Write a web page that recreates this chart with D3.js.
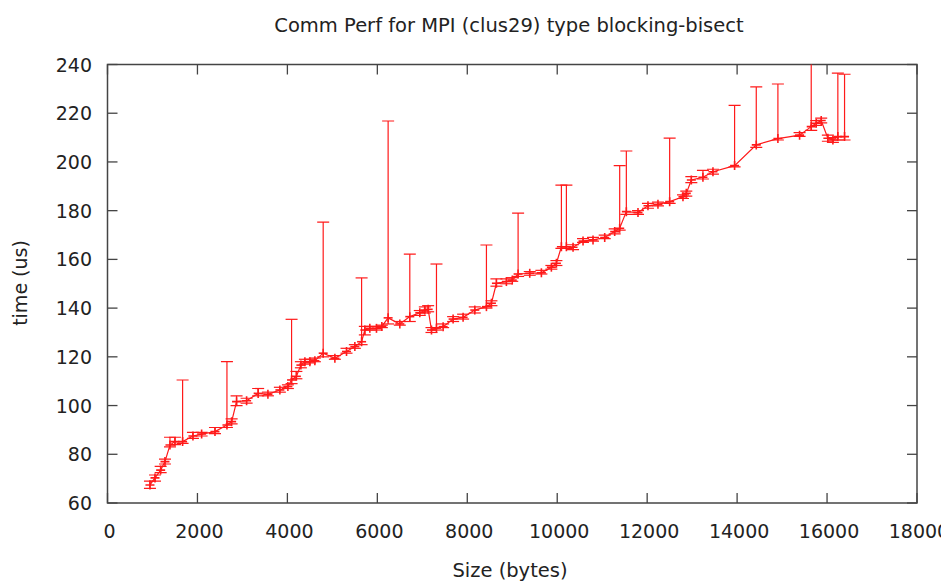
<!DOCTYPE html>
<html>
<head>
<meta charset="utf-8">
<script src="https://cdn.jsdelivr.net/npm/d3@7"></script>
<style>
  html, body { margin: 0; padding: 0; background: #fff; }
  svg { display: block; }
  text { font-family: "DejaVu Sans", sans-serif; fill: #222; }
</style>
</head>
<body>
<svg id="chart" width="941" height="581"></svg>
<script>
const sizes = [944,1056,1182,1278,1389,1500,1670,1900,2093,2390,2656,2760,2870,3093,3350,3567,3833,4011,4093,4200,4300,4389,4500,4611,4796,5056,5315,5500,5650,5722,5833,5981,6100,6240,6500,6722,6944,7056,7130,7204,7315,7463,7685,7907,8167,8426,8537,8648,8870,9000,9130,9389,9648,9870,9982,10093,10204,10352,10574,10796,11056,11278,11389,11537,11796,12018,12240,12500,12796,12870,12982,13240,13463,13944,14426,14907,15389,15648,15759,15870,16018,16130,16240,16389];
const times = [67.4,70.3,73.5,77,83.8,85.2,85.2,87.5,88.3,89.3,92,93.4,101.6,102,105,104.6,106.4,107.8,110.5,112,116.6,118,118,118.4,121.5,119.4,122.2,124.2,126.2,131,131.7,131.7,132.5,136,133.5,136.5,138.1,139.2,139.5,131,131.8,132.4,135.5,136.2,139.2,140.6,142,150.2,150.9,151.5,154,154.3,154.5,156.8,158.4,165.2,165.2,165,167.5,168,169,171.4,172.8,179.6,179.2,182,182.6,183.7,185.7,187.1,192.6,193.7,196,198.5,207,209.6,211,214.5,215.9,217,209.7,209,210.4,210.4];
const lows = [66,69,72.5,76,83,84,84.5,86.5,87.5,88.5,91,92.5,100,101,104,104,105.5,107,109,111,115.5,117,117.5,118,120,119,121.5,123.5,125,129,131,131,132,133.5,133,134.5,137,138,138.5,130,131,132,134.5,135.5,138,140,141,149,150,151,153,153.5,154,156,157.5,164.5,164.5,164,167,167.5,168.5,170.5,172,178.5,178.5,181,182,183,185,186,191.5,193,195,198,206,209,210.5,213,215,216,208.5,208,209,209];
const highs = [69,71.5,75,78,87,87,110.5,89,89,91,118,94.5,104,103,107,105.5,107.5,108.5,135.4,114,118,119,119,119.5,175.3,120.5,123.5,125,152.4,132.5,132.5,132.5,133,216.8,134.5,162.2,139,140.5,141,132,158.1,133.5,136.5,137.5,140.5,165.9,143,152,152,152.5,179,155,155.5,157.5,159.5,190.5,190.5,166,168.5,169,170,172.5,198.5,204.5,180,183,183.5,209.8,186.5,188,194,196.5,197,223.2,230.8,232,212,245,217,218,211,210,236.5,236];
const xTicks = [0,2000,4000,6000,8000,10000,12000,14000,16000,18000];
const yTicks = [60,80,100,120,140,160,180,200,220,240];

const data = sizes.map((s, i) => ({x: s, y: times[i], lo: lows[i], hi: highs[i]}));

const svg = d3.select("#chart");
const L = 107.5, R = 917, T = 64.5, B = 503;
const x = d3.scaleLinear().domain([0, 18000]).range([L, R]);
const y = d3.scaleLinear().domain([60, 240]).range([B, T]);

svg.append("defs").append("clipPath").attr("id", "plotclip")
  .append("rect").attr("x", L).attr("y", T).attr("width", R - L).attr("height", B - T);

const axisColor = "#444";
const tickLen = 10;

const ticksG = svg.append("g");
xTicks.forEach(t => {
  ticksG.append("line").attr("x1", x(t)).attr("x2", x(t)).attr("y1", B).attr("y2", B - tickLen)
    .attr("stroke", axisColor).attr("stroke-width", 1.3);
  ticksG.append("line").attr("x1", x(t)).attr("x2", x(t)).attr("y1", T).attr("y2", T + tickLen)
    .attr("stroke", axisColor).attr("stroke-width", 1.3);
  svg.append("text").attr("x", x(t) + 2).attr("y", 538).attr("text-anchor", "middle")
    .attr("font-size", 19).text(t);
});
yTicks.forEach(t => {
  ticksG.append("line").attr("x1", L).attr("x2", L + tickLen).attr("y1", y(t)).attr("y2", y(t))
    .attr("stroke", axisColor).attr("stroke-width", 1.3);
  ticksG.append("line").attr("x1", R).attr("x2", R - tickLen).attr("y1", y(t)).attr("y2", y(t))
    .attr("stroke", axisColor).attr("stroke-width", 1.3);
  svg.append("text").attr("x", 92).attr("y", y(t) + 7).attr("text-anchor", "end")
    .attr("font-size", 19).text(t);
});

svg.append("rect").attr("x", L).attr("y", T).attr("width", R - L).attr("height", B - T)
  .attr("fill", "none").attr("stroke", axisColor).attr("stroke-width", 1.5);

const red = "#ff1a1a";
const plot = svg.append("g").attr("clip-path", "url(#plotclip)");
const line = d3.line().x(d => x(d.x)).y(d => y(d.y));
plot.append("path").datum(data).attr("d", line).attr("fill", "none")
  .attr("stroke", red).attr("stroke-width", 1.2);

const cap = 6, mk = 4.5;
const eb = plot.selectAll("g.eb").data(data).join("g").attr("class", "eb")
  .attr("stroke", red).attr("stroke-width", 1.2);
eb.append("line").attr("x1", d => x(d.x)).attr("x2", d => x(d.x))
  .attr("y1", d => y(d.lo)).attr("y2", d => y(d.hi));
eb.append("line").attr("x1", d => x(d.x) - cap).attr("x2", d => x(d.x) + cap)
  .attr("y1", d => y(d.lo)).attr("y2", d => y(d.lo));
eb.append("line").attr("x1", d => x(d.x) - cap).attr("x2", d => x(d.x) + cap)
  .attr("y1", d => y(d.hi)).attr("y2", d => y(d.hi));
eb.append("line").attr("x1", d => x(d.x) - mk).attr("x2", d => x(d.x) + mk)
  .attr("y1", d => y(d.y)).attr("y2", d => y(d.y)).attr("stroke-width", 1.6);
eb.append("line").attr("x1", d => x(d.x)).attr("x2", d => x(d.x))
  .attr("y1", d => y(d.y) - mk).attr("y2", d => y(d.y) + mk).attr("stroke-width", 1.6);

svg.append("text").attr("x", 509).attr("y", 32).attr("text-anchor", "middle")
  .attr("font-size", 19.5).text("Comm Perf for MPI (clus29) type blocking-bisect");
svg.append("text").attr("x", 510).attr("y", 577).attr("text-anchor", "middle")
  .attr("font-size", 19.5).text("Size (bytes)");
svg.append("text").attr("transform", "translate(27,283) rotate(-90)").attr("text-anchor", "middle")
  .attr("font-size", 19).text("time (us)");
</script>
</body>
</html>
